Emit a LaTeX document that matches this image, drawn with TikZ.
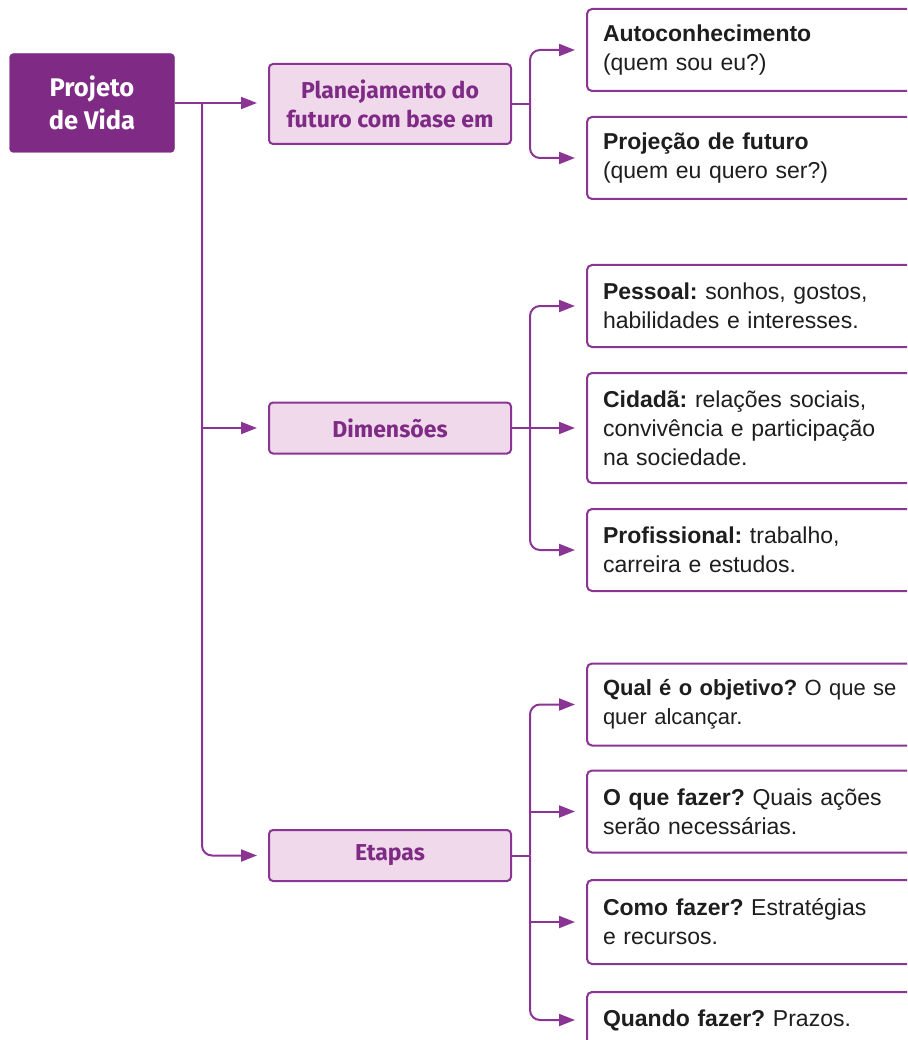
\documentclass[tikz,border=0pt]{standalone}
\usepackage{fontspec}
\setmainfont{Liberation Sans}
\newfontfamily\labelfont{Fira Sans}
\usetikzlibrary{arrows.meta}
\frenchspacing
\definecolor{vio}{HTML}{7F2B86}
\definecolor{violine}{HTML}{8A3593}
\definecolor{pinkfill}{HTML}{EFD9EB}
\definecolor{txt}{HTML}{1E1E1E}
\tikzset{
  rootbox/.style={fill=vio, draw=vio, rounded corners=4pt, minimum width=165pt, minimum height=99pt,
    text=white, font=\labelfont\bfseries\fontsize{25.5}{33}\selectfont, align=center},
  midbox/.style={fill=pinkfill, draw=violine, line width=2pt, rounded corners=4pt, minimum width=242pt,
    text=vio, font=\labelfont\bfseries\fontsize{23}{29}\selectfont, align=center},
  leafbox/.style={draw=violine, line width=2pt, rounded corners=5pt, fill=white, anchor=west,
    text width=317pt, align=left, inner xsep=16pt, minimum height=82pt, text=txt,
    font=\fontsize{23}{29}\selectfont},
  link/.style={draw=violine, line width=2pt},
  arr/.style={link, -{Triangle[length=16pt,width=12pt]}, shorten >=11pt},
}
\begin{document}
\begin{tikzpicture}[x=1pt,y=-1pt]
\path[use as bounding box, clip] (0,0) rectangle (907,1040);
% root
\node[rootbox] (root) at (92,103) {Projeto\\de Vida};
% level 2
\node[midbox, minimum height=80pt] (plan) at (390,104) {Planejamento do\\futuro com base em};
\node[midbox, minimum height=51pt] (dim) at (390,428) {Dimensões};
\node[midbox, minimum height=51pt] (etap) at (390,855.5) {Etapas};
% level 3
\node[leafbox] (auto) at (586,50) {\textbf{Autoconhecimento}\\(quem sou eu?)};
\node[leafbox] (projf) at (586,158) {\textbf{Projeção de futuro}\\(quem eu quero ser?)};
\node[leafbox] (pess) at (586,306) {\textbf{Pessoal:} sonhos, gostos,\\habilidades e interesses.};
\node[leafbox, minimum height=110pt] (cid) at (586,428) {\textbf{Cidadã:} relações sociais,\\convivência e participação\\na sociedade.};
\node[leafbox] (prof) at (586,550) {\textbf{Profissional:} trabalho,\\carreira e estudos.};
\node[leafbox, font=\fontsize{22}{29}\selectfont] (qual) at (586,704.5) {\textbf{Qual é o objetivo?} O que se\\quer alcançar.};
\node[leafbox] (oque) at (586,811.5) {\textbf{O que fazer?} Quais ações\\serão necessárias.};
\node[leafbox, minimum height=84pt] (como) at (586,922) {\textbf{Como fazer?} Estratégias\\e recursos.};
\node[leafbox, minimum height=56pt] (quando) at (586,1020) {\textbf{Quando fazer?} Prazos.};
% trunk
\coordinate (t1) at (202,103);
\draw[arr] (root.east) -- (root.east -| plan.west);
\draw[arr] (t1 |- dim.west) -- (dim.west);
\draw[arr, rounded corners=10pt] (t1) |- (etap.west);
% plan branches
\coordinate (p) at (530,104);
\draw[link] (plan.east) -- (p);
\draw[arr, rounded corners=10pt] (p) |- (auto.west);
\draw[arr, rounded corners=10pt] (p) |- (projf.west);
% dim branches
\coordinate (d) at (530,428);
\draw[arr] (dim.east) -- (cid.west);
\draw[arr, rounded corners=10pt] (d) |- (pess.west);
\draw[arr, rounded corners=10pt] (d) |- (prof.west);
% etapas branches
\coordinate (e) at (530,855.5);
\draw[link] (etap.east) -- (e);
\draw[arr, rounded corners=10pt] (e) |- (qual.west);
\draw[arr, rounded corners=10pt] (e) |- (quando.west);
\draw[arr] (e |- oque.west) -- (oque.west);
\draw[arr] (e |- como.west) -- (como.west);
\end{tikzpicture}
\end{document}
